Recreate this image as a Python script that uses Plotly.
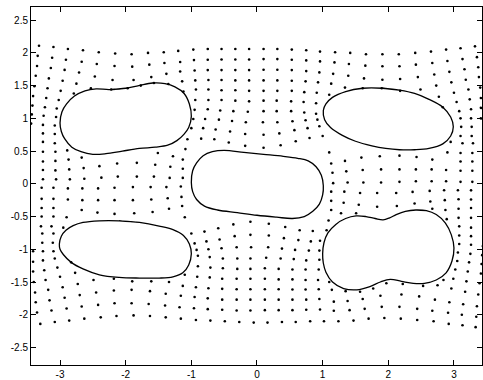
import plotly.graph_objects as go

# ---- boundary curves of the five holes (closed, listed in order) ----
hole_a_x = [-2.25, -2.00, -1.80, -1.59, -1.40, -1.25, -1.11, -1.03, -1.00, -1.04, -1.11, -1.22, -1.36, -1.55,
            -1.79, -2.05, -2.30, -2.50, -2.68, -2.82, -2.93, -2.98, -3.00, -2.97, -2.90, -2.78, -2.62, -2.45]
hole_a_y = [1.44, 1.46, 1.50, 1.54, 1.53, 1.48, 1.38, 1.22, 1.03, 0.86, 0.76, 0.66, 0.59, 0.56,
            0.54, 0.50, 0.46, 0.45, 0.49, 0.56, 0.69, 0.80, 0.93, 1.10, 1.22, 1.34, 1.42, 1.45]

hole_b_x = [1.91, 2.17, 2.40, 2.62, 2.83, 2.95, 2.99, 2.95, 2.83, 2.62, 2.40, 2.17, 1.96, 1.75, 1.50,
            1.30, 1.12, 1.03, 1.01, 1.05, 1.15, 1.35, 1.61]
hole_b_y = [1.46, 1.43, 1.38, 1.29, 1.17, 1.02, 0.87, 0.73, 0.61, 0.54, 0.52, 0.52, 0.54, 0.58, 0.65,
            0.74, 0.86, 0.98, 1.12, 1.22, 1.32, 1.41, 1.46]

hole_c_x = [-0.20, 0.10, 0.40, 0.62, 0.78, 0.90, 0.98, 1.01, 1.00, 0.95, 0.85, 0.72, 0.54, 0.30, 0.00,
            -0.30, -0.60, -0.80, -0.92, -0.98, -1.00, -0.98, -0.92, -0.82, -0.68, -0.50]
hole_c_y = [0.48, 0.45, 0.42, 0.39, 0.35, 0.26, 0.13, -0.03, -0.17, -0.31, -0.42, -0.50, -0.53, -0.51, -0.48,
            -0.44, -0.40, -0.34, -0.24, -0.12, 0.02, 0.20, 0.32, 0.43, 0.49, 0.51]

hole_d_x = [-2.10, -1.79, -1.49, -1.28, -1.12, -1.03, -1.00, -1.04, -1.13, -1.28, -1.49, -1.79, -2.10,
            -2.40, -2.65, -2.83, -2.95, -3.00, -3.01, -2.98, -2.91, -2.80, -2.65, -2.40]
hole_d_y = [-0.565, -0.59, -0.645, -0.70, -0.79, -0.92, -1.07, -1.24, -1.36, -1.42, -1.44, -1.44, -1.43,
            -1.39, -1.30, -1.20, -1.08, -1.00, -0.92, -0.80, -0.71, -0.64, -0.59, -0.565]

hole_e_x = [2.42, 2.58, 2.73, 2.87, 2.96, 3.00, 2.97, 2.88, 2.73, 2.55, 2.38, 2.20, 2.03, 1.88, 1.72,
            1.52, 1.32, 1.15, 1.05, 1.01, 1.00, 1.02, 1.08, 1.20, 1.35, 1.51, 1.66, 1.80, 1.92, 2.02, 2.12, 2.26]
hole_e_y = [-0.40, -0.41, -0.47, -0.60, -0.78, -0.98, -1.18, -1.36, -1.47, -1.52, -1.52, -1.49, -1.46, -1.50, -1.57,
            -1.62, -1.60, -1.50, -1.35, -1.21, -1.07, -0.90, -0.75, -0.62, -0.53, -0.49, -0.50, -0.53, -0.55, -0.52, -0.47, -0.42]

# ---- mesh points, upper half ----
top_x = [-3.32, -3.10, -2.88, -2.65, -2.41, -2.16, -1.91, -1.66, -1.42, -1.20, -0.97, -0.75, -0.54, -0.33, -0.12,
         0.10, 0.31, 0.53, 0.75, 0.96, 1.19, 1.42, 1.66, 1.91, 2.16, 2.41, 2.65, 2.88, 3.10, 3.32,
         -3.34, -3.12, -2.91, -2.67, -2.44, -2.17, -1.90, -1.64, -1.41, -1.17, -0.96, -0.75, -0.54, -0.33, -0.12,
         0.10, 0.31, 0.53, 0.75, 0.96, 1.18, 1.40, 1.65, 1.91, 2.17, 2.42, 2.67, 2.90, 3.13, 3.35,
         -3.35, -3.14, -2.93, -2.71, -2.47, -2.20, -1.88, -1.61, -1.38, -1.17, -0.95, -0.75, -0.54, -0.33, -0.12,
         0.10, 0.31, 0.53, 0.75, 0.95, 1.16, 1.39, 1.63, 1.91, 2.18, 2.45, 2.70, 2.93, 3.16, 3.37,
         -3.37, -3.17, -2.96, -2.75, -2.53, -2.22, -1.97, -1.77, -1.57, -1.35, -1.14, -0.94, -0.74, -0.54, -0.33,
         -0.12, 0.10, 0.31, 0.53, 0.74, 0.93, 1.13, 1.34, 1.61, 1.90, 2.18, 2.49, 2.73, 2.96, 3.18, 3.38]
top_y = [2.11, 2.09, 2.06, 2.04, 2.01, 1.99, 1.98, 2.00, 2.01, 2.03, 2.05, 2.06, 2.06, 2.06, 2.06,
         2.06, 2.06, 2.05, 2.04, 2.02, 2.01, 2.00, 1.98, 1.98, 1.98, 2.00, 2.02, 2.05, 2.07, 2.10,
         1.955, 1.925, 1.895, 1.865, 1.83, 1.80, 1.79, 1.82, 1.845, 1.86, 1.89, 1.895, 1.90, 1.90, 1.90,
         1.905, 1.905, 1.895, 1.885, 1.87, 1.855, 1.83, 1.805, 1.795, 1.795, 1.82, 1.845, 1.875, 1.905, 1.935,
         1.80, 1.77, 1.74, 1.70, 1.64, 1.585, 1.585, 1.63, 1.68, 1.715, 1.73, 1.737, 1.737, 1.737, 1.737,
         1.742, 1.742, 1.737, 1.722, 1.702, 1.68, 1.65, 1.61, 1.59, 1.60, 1.63, 1.67, 1.71, 1.75, 1.78,
         1.65, 1.61, 1.575, 1.53, 1.46, 1.44, 1.46, 1.50, 1.54, 1.525, 1.565, 1.58, 1.585, 1.585, 1.58,
         1.58, 1.58, 1.58, 1.575, 1.565, 1.55, 1.53, 1.47, 1.46, 1.46, 1.42, 1.44, 1.50, 1.55, 1.59, 1.63]

left_x = [-3.39, -3.19, -2.99, -2.79, -3.41, -3.21, -3.02, -3.42, -3.23, -3.05, -3.43, -3.25, -3.06,
          -3.44, -3.26, -3.08, -3.26, -3.08, -3.26, -3.08, -3.26, -3.07, -2.89,
          -3.26, -3.07, -2.87, -2.67, -3.26, -3.07, -2.86, -2.64, -2.40, -2.13, -1.83, -1.55, -1.32, -1.13,
          -3.26, -3.06, -2.85, -2.63, -2.37, -2.12, -1.83, -1.57, -1.33, -1.13,
          -1.51, -1.28, -1.09, -1.13]
left_y = [1.49, 1.46, 1.42, 1.38, 1.34, 1.31, 1.28, 1.195, 1.17, 1.15, 1.06, 1.04, 1.02,
          0.92, 0.90, 0.89, 0.77, 0.76, 0.64, 0.62, 0.49, 0.49, 0.51,
          0.34, 0.35, 0.37, 0.40, 0.21, 0.205, 0.22, 0.24, 0.27, 0.31, 0.32, 0.29, 0.26, 0.23,
          0.07, 0.068, 0.068, 0.078, 0.094, 0.11, 0.11, 0.11, 0.09, 0.09,
          0.47, 0.42, 0.53, 0.37]

mid_x = [-1.12, -0.93, -0.74, -0.54, -0.33, -0.12, 0.10, 0.31, 0.53, 0.72, 0.91, 1.10,
         -0.94, -0.74, -0.54, -0.33, -0.12, 0.10, 0.30, 0.52, 0.71, 0.90,
         -0.95, -0.75, -0.56, -0.36, -0.14, 0.10, 0.30, 0.52, 0.72, 0.90,
         -0.97, -0.79, -0.58, -0.38, -0.17, 0.09, 0.31, 0.54, 0.74, 0.92,
         -1.00, -0.82, -0.63, -0.41, -0.18, 0.10, 0.34, 0.57, 0.77, 0.95,
         -1.06, -0.85, -0.65, -0.43, -0.18, 0.10, 0.36, 0.59, 0.80, 1.00]
mid_y = [1.41, 1.44, 1.44, 1.43, 1.43, 1.42, 1.42, 1.42, 1.42, 1.40, 1.39, 1.36,
         1.28, 1.28, 1.28, 1.27, 1.26, 1.27, 1.27, 1.26, 1.25, 1.23,
         1.13, 1.14, 1.12, 1.11, 1.10, 1.11, 1.11, 1.11, 1.09, 1.07,
         0.99, 0.99, 0.98, 0.96, 0.94, 0.94, 0.94, 0.955, 0.97, 0.98,
         0.85, 0.85, 0.83, 0.80, 0.76, 0.75, 0.77, 0.82, 0.85, 0.88,
         0.68, 0.69, 0.68, 0.63, 0.58, 0.55, 0.59, 0.65, 0.70, 0.73]

right_x = [2.77, 3.00, 3.22, 3.40, 2.83, 3.04, 3.24, 3.41, 3.08, 3.26, 3.41, 3.10, 3.26, 3.41,
           3.11, 3.27, 3.10, 3.27, 2.95, 3.13, 3.29, 3.10, 3.28, 3.10, 3.28,
           1.10, 1.34, 1.59, 1.87, 2.17, 2.43, 2.67, 2.90, 1.13,
           1.15, 1.36, 1.61, 1.89, 2.17, 2.42, 2.66, 2.88, 3.10, 3.28,
           1.16, 1.38, 1.62, 1.89, 2.17, 2.42, 2.66, 2.88, 3.10, 3.28]
right_y = [1.33, 1.39, 1.44, 1.47, 1.17, 1.25, 1.29, 1.31, 1.11, 1.14, 1.16, 1.00, 1.00, 1.00,
           0.87, 0.87, 0.73, 0.73, 0.64, 0.62, 0.62, 0.47, 0.47, 0.34, 0.34,
           0.48, 0.35, 0.40, 0.42, 0.43, 0.41, 0.37, 0.48, 0.31,
           0.17, 0.19, 0.21, 0.22, 0.22, 0.22, 0.22, 0.21, 0.20, 0.20,
           0.01, 0.02, 0.02, 0.02, 0.03, 0.04, 0.04, 0.04, 0.03, 0.03]

# ---- mesh points, lower half ----
low_rows_x = [-3.30, -3.08, -2.86, -2.63, -2.38, -2.14, -1.88, -1.63, -1.39, -1.16, -0.93, -0.71, -0.49, -0.27,
              -0.05, 0.16, 0.38, 0.59, 0.81, 1.02, 1.24, 1.47, 1.70, 1.94, 2.19, 2.44, 2.69, 2.92, 3.13, 3.33,
              -3.35, -3.13, -2.90, -2.67, -2.42, -2.17, -1.91, -1.65, -1.40, -1.18, -0.96, -0.75, -0.53, -0.31,
              -0.10, 0.12, 0.33, 0.54, 0.75, 0.96, 1.17, 1.41, 1.64, 1.90, 2.17, 2.44, 2.67, 2.91, 3.12, 3.34,
              -3.37, -3.16, -2.93, -2.70, -2.45, -2.18, -1.91, -1.63, -1.39, -1.16, -0.95, -0.75, -0.53, -0.31,
              -0.10, 0.12, 0.33, 0.54, 0.75, 0.95, 1.17, 1.38, 1.61, 1.88, 2.20, 2.47, 2.71, 2.93, 3.14, 3.35,
              -3.38, -3.18, -2.96, -2.73, -2.49, -2.18, -1.90, -1.61, -1.34, -1.13, -0.93, -0.74, -0.53, -0.31,
              -0.10, 0.12, 0.33, 0.54, 0.74, 0.94, 1.14, 1.35, 1.57, 1.77, 1.97, 2.22, 2.53, 2.75, 2.96, 3.17, 3.37]
low_rows_y = [-2.14, -2.11, -2.09, -2.06, -2.04, -2.02, -2.01, -2.02, -2.04, -2.06, -2.08, -2.09, -2.10, -2.11,
              -2.12, -2.12, -2.11, -2.11, -2.10, -2.10, -2.10, -2.09, -2.06, -2.05, -2.06, -2.08, -2.10, -2.14, -2.16, -2.19,
              -1.965, -1.935, -1.905, -1.875, -1.85, -1.825, -1.825, -1.835, -1.86, -1.885, -1.90, -1.915, -1.925, -1.935,
              -1.935, -1.93, -1.93, -1.93, -1.925, -1.92, -1.94, -1.93, -1.91, -1.88, -1.88, -1.91, -1.94, -1.97, -2.00, -2.03,
              -1.81, -1.78, -1.74, -1.70, -1.66, -1.63, -1.62, -1.64, -1.68, -1.71, -1.73, -1.75, -1.77, -1.77,
              -1.77, -1.77, -1.77, -1.77, -1.77, -1.76, -1.80, -1.79, -1.76, -1.71, -1.69, -1.72, -1.77, -1.81, -1.84, -1.87,
              -1.66, -1.62, -1.58, -1.53, -1.47, -1.45, -1.49, -1.49, -1.50, -1.56, -1.58, -1.595, -1.605, -1.61,
              -1.61, -1.61, -1.61, -1.615, -1.615, -1.61, -1.62, -1.64, -1.65, -1.60, -1.52, -1.53, -1.56, -1.55, -1.60, -1.65, -1.69]

low_right_x = [3.39, 3.19, 2.99, 2.84, 3.41, 3.21, 3.02, 3.42, 3.23, 3.05, 3.43, 3.25, 3.06,
               3.44, 3.26, 3.08, 3.26, 3.08, 3.26, 3.08, 3.26, 3.07, 2.89,
               3.26, 3.07, 2.87, 2.67, 3.26, 3.07, 2.86, 2.64, 2.40, 2.13, 1.83, 1.55, 1.32, 1.13,
               3.26, 3.06, 2.85, 2.63, 2.37, 2.12, 1.83, 1.57, 1.33, 1.13,
               1.51, 1.28, 1.09, 1.13]
low_right_y = [-1.52, -1.49, -1.45, -1.47, -1.37, -1.34, -1.31, -1.225, -1.20, -1.18, -1.09, -1.07, -1.05,
               -0.95, -0.93, -0.92, -0.80, -0.79, -0.67, -0.65, -0.52, -0.52, -0.54,
               -0.37, -0.38, -0.40, -0.38, -0.24, -0.235, -0.25, -0.27, -0.30, -0.34, -0.35, -0.32, -0.29, -0.26,
               -0.10, -0.098, -0.098, -0.108, -0.124, -0.14, -0.14, -0.14, -0.12, -0.12,
               -0.45, -0.45, -0.56, -0.40]

low_mid_x = [1.10, 0.93, 0.74, 0.54, 0.33, 0.12, -0.10, -0.31, -0.53, -0.72, -0.91, -1.10,
             0.94, 0.74, 0.54, 0.33, 0.12, -0.10, -0.30, -0.52, -0.71, -0.90,
             0.95, 0.75, 0.56, 0.36, 0.14, -0.10, -0.30, -0.52, -0.72, -0.90,
             0.95, 0.79, 0.58, 0.38, 0.17, -0.09, -0.31, -0.54, -0.74, -0.92,
             0.96, 0.82, 0.63, 0.41, 0.18, -0.10, -0.34, -0.57, -0.77, -0.95,
             1.06, 0.85, 0.65, 0.43, 0.18, -0.10, -0.36, -0.59, -0.80, -1.00]
low_mid_y = [-1.50, -1.47, -1.47, -1.46, -1.46, -1.45, -1.45, -1.45, -1.45, -1.43, -1.42, -1.39,
             -1.31, -1.31, -1.31, -1.30, -1.29, -1.30, -1.30, -1.29, -1.28, -1.26,
             -1.16, -1.17, -1.15, -1.14, -1.13, -1.14, -1.14, -1.14, -1.12, -1.10,
             -1.02, -1.02, -1.01, -0.99, -0.97, -0.97, -0.97, -0.985, -1.00, -1.01,
             -0.87, -0.88, -0.86, -0.83, -0.79, -0.78, -0.80, -0.85, -0.88, -0.91,
             -0.71, -0.72, -0.71, -0.66, -0.61, -0.58, -0.62, -0.68, -0.73, -0.76]

low_left_x = [-2.77, -3.00, -3.22, -3.40, -2.83, -3.04, -3.24, -3.41, -3.08, -3.26, -3.41, -3.10, -3.26, -3.41,
              -3.11, -3.27, -3.10, -3.27, -2.95, -3.13, -3.29, -3.10, -3.28, -3.10, -3.28,
              -1.10, -1.34, -1.59, -1.87, -2.17, -2.43, -2.67, -2.90, -1.14,
              -1.15, -1.36, -1.61, -1.89, -2.17, -2.42, -2.66, -2.88, -3.10, -3.28,
              -1.16, -1.38, -1.62, -1.89, -2.17, -2.42, -2.66, -2.88, -3.10, -3.28]
low_left_y = [-1.36, -1.42, -1.47, -1.50, -1.20, -1.28, -1.32, -1.34, -1.14, -1.17, -1.19, -1.03, -1.03, -1.03,
              -0.90, -0.90, -0.76, -0.76, -0.67, -0.65, -0.65, -0.50, -0.50, -0.37, -0.37,
              -0.51, -0.38, -0.43, -0.45, -0.46, -0.44, -0.40, -0.51, -0.34,
              -0.20, -0.22, -0.24, -0.25, -0.25, -0.25, -0.25, -0.24, -0.23, -0.23,
              -0.04, -0.05, -0.05, -0.05, -0.06, -0.07, -0.07, -0.07, -0.06, -0.06]

x_ticks = [-3, -2, -1, 0, 1, 2, 3]
x_labels = ["-3", "-2", "-1", "0", "1", "2", "3"]
y_ticks = [-2.5, -2, -1.5, -1, -0.5, 0, 0.5, 1, 1.5, 2, 2.5]
y_labels = ["-2.5", "-2", "-1.5", "-1", "-0.5", "0", "0.5", "1", "1.5", "2", "2.5"]

fig = go.Figure()

dot_x = top_x + left_x + mid_x + right_x + low_rows_x + low_right_x + low_mid_x + low_left_x
dot_y = top_y + left_y + mid_y + right_y + low_rows_y + low_right_y + low_mid_y + low_left_y
fig.add_trace(go.Scatter(x=dot_x, y=dot_y, mode="markers",
                         marker=dict(size=2.6, color="black", line=dict(width=0)),
                         hoverinfo="skip"))

for hx, hy in [(hole_a_x, hole_a_y), (hole_b_x, hole_b_y), (hole_c_x, hole_c_y),
               (hole_d_x, hole_d_y), (hole_e_x, hole_e_y)]:
    # wrap two points past the start so the spline closes smoothly
    fig.add_trace(go.Scatter(x=hx + hx[:2], y=hy + hy[:2], mode="lines",
                             line=dict(color="black", width=1.3, shape="spline", smoothing=1.0),
                             hoverinfo="skip"))

axis_common = dict(showgrid=False, zeroline=False, showline=True, linecolor="black", linewidth=1,
                   mirror="allticks", ticks="inside", ticklen=5, tickcolor="black", tickwidth=1,
                   tickfont=dict(family="Liberation Sans, Arial, sans-serif", size=10, color="black"))

fig.update_layout(
    width=483, height=380,
    margin=dict(l=31, r=0, t=7, b=13),
    paper_bgcolor="white", plot_bgcolor="white",
    showlegend=False,
    xaxis=dict(range=[-3.442, 3.427], tickvals=x_ticks, ticktext=x_labels, **axis_common),
    yaxis=dict(range=[-2.768, 2.701], tickvals=y_ticks, ticktext=y_labels, **axis_common),
)

fig.write_html("out.html", config={"displayModeBar": False})
